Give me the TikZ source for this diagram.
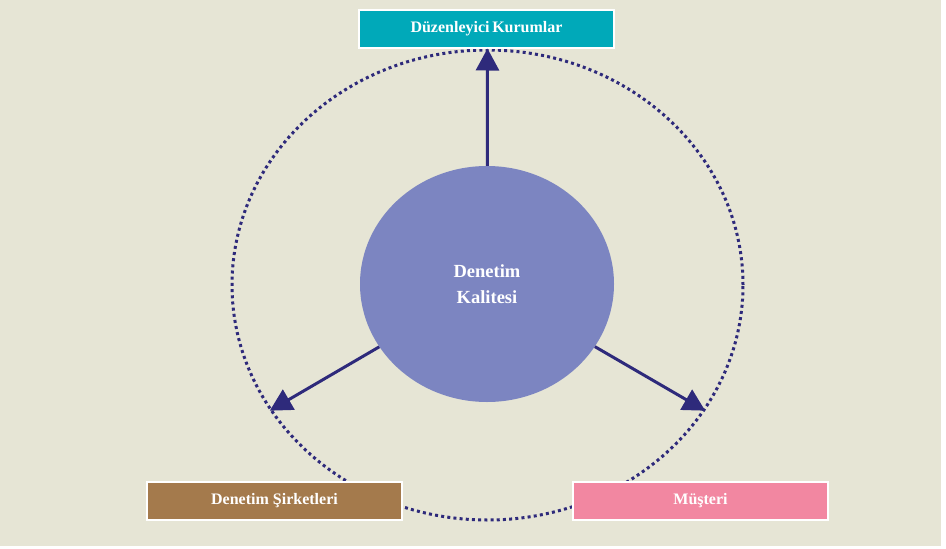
\documentclass[tikz,border=0pt]{standalone}
\usepackage{fontspec}
\setmainfont{Liberation Serif}
\usetikzlibrary{shapes.geometric,arrows.meta}
\definecolor{zemin}{HTML}{E6E5D5}
\definecolor{lacivert}{HTML}{2E2A7B}
\definecolor{turkuaz}{HTML}{00A9B9}
\definecolor{kahve}{HTML}{A47A4C}
\definecolor{pembe}{HTML}{F287A1}
\definecolor{mor}{HTML}{7C85C1}
\tikzset{
    kutu/.style={draw=white, line width=1.5pt, minimum width=255pt, minimum height=38pt,
        inner sep=0pt, text=white, font=\fontsize{16}{18}\selectfont\bfseries},
    ok/.style={lacivert, line width=3pt, -{Triangle[length=22pt,width=23pt]}}
}

\begin{document}
\begin{tikzpicture}[x=1pt,y=-1pt]
    \useasboundingbox (0,0) rectangle (946,549);
    \fill[white] (0,0) rectangle (946,549);
    \fill[zemin] (0,0) rectangle (941,546);
    % dis halka
    \node[ellipse, draw=lacivert, line width=3pt, dash pattern=on 3pt off 3.2pt,
        minimum width=511pt, minimum height=470pt, inner sep=0pt] (halka) at (487.5,285) {};
    \node[ellipse, fill=mor, minimum width=254pt, minimum height=236pt, inner sep=0pt,
        text=white, align=center, font=\fontsize{18.5}{26}\selectfont\bfseries] (kalite) at (487,284)
        {Denetim\\Kalitesi};
    \node[kutu, fill=turkuaz] (kurum) at (486.5,29) {Düzenleyici\,Kurumlar};
    \node[kutu, fill=kahve] (sirket) at (274.5,501) {Denetim Şirketleri};
    \node[kutu, fill=pembe] (musteri) at (700.5,501) {Müşteri};
    \draw[ok] (kalite) -- (halka.north);
    \draw[ok] (kalite) -- (halka.210);
    \draw[ok] (kalite) -- (halka.330);
\end{tikzpicture}
\end{document}
